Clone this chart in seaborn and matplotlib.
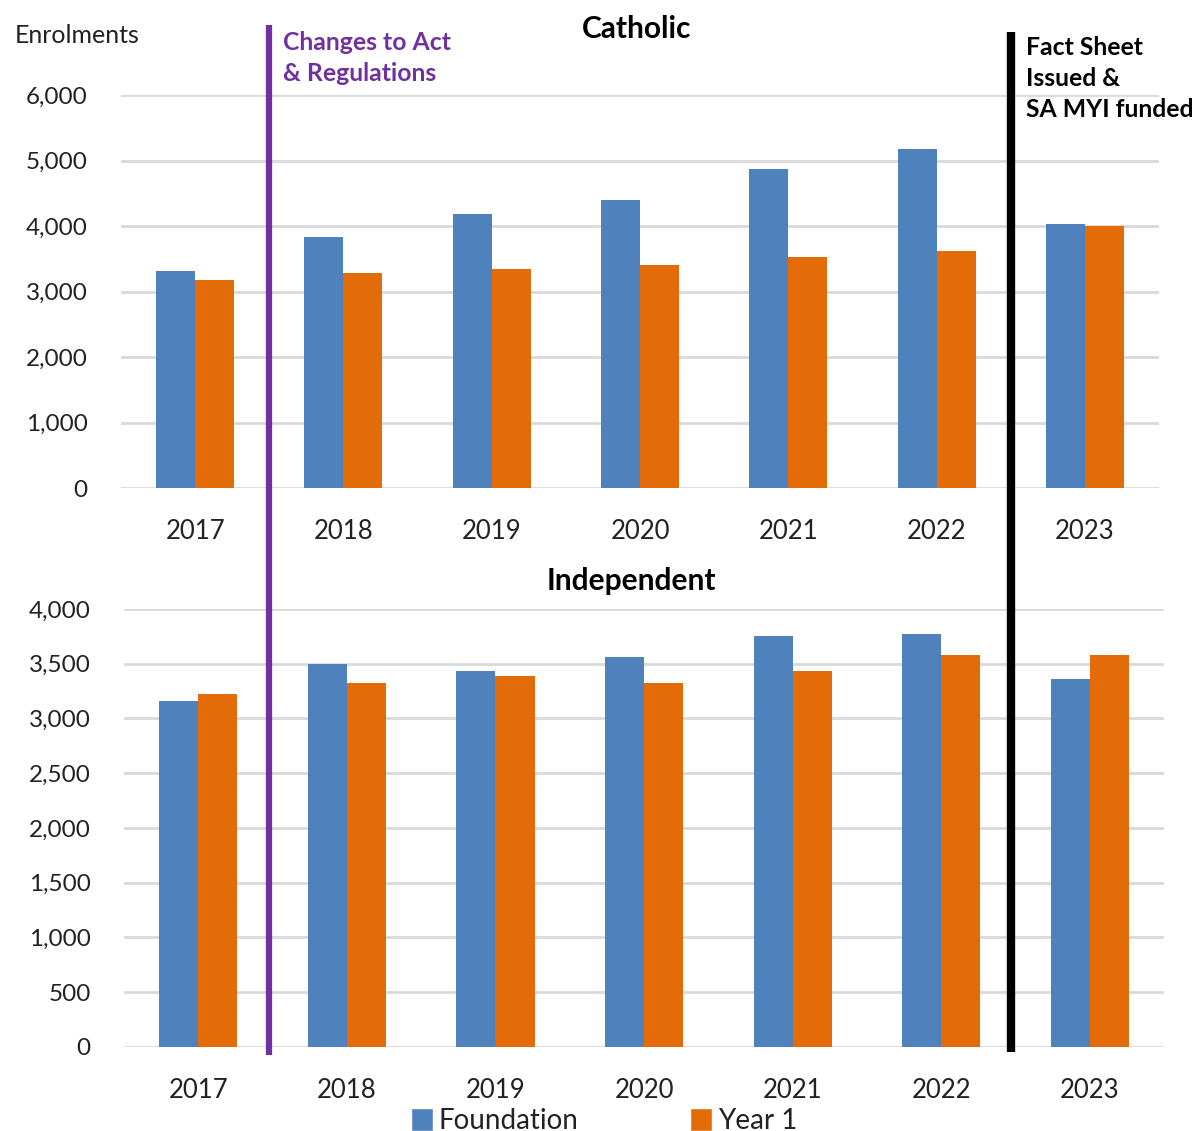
import matplotlib
matplotlib.use("Agg")
import matplotlib.pyplot as plt
import matplotlib.transforms as mtransforms
from matplotlib.lines import Line2D
from matplotlib.patches import Patch
import seaborn as sns
import pandas as pd

# Enrolment figures by school year
years = ["2017", "2018", "2019", "2020", "2021", "2022", "2023"]
series = ["Foundation", "Year 1"]
catholic_foundation = [3310, 3830, 4180, 4400, 4870, 5180, 4030]
catholic_year1 = [3180, 3280, 3340, 3400, 3530, 3620, 4000]
independent_foundation = [3160, 3500, 3430, 3560, 3750, 3770, 3360]
independent_year1 = [3220, 3320, 3390, 3320, 3430, 3580, 3580]

catholic_ticks = [0, 1000, 2000, 3000, 4000, 5000, 6000]
independent_ticks = [0, 500, 1000, 1500, 2000, 2500, 3000, 3500, 4000]

BLUE = "#4F81BD"
ORANGE = "#E36C09"
PURPLE = "#7030A0"
GRID = "#D9D9D9"
TEXT = "#222222"

sns.set_theme(style="white")
plt.rcParams["font.family"] = ["Lato", "DejaVu Sans"]


def long_frame(found, yr1):
    return pd.DataFrame({
        "Year": years * 2,
        "Series": [series[0]] * len(years) + [series[1]] * len(years),
        "Enrolments": list(found) + list(yr1),
    })


fig = plt.figure(figsize=(11.96, 11.31), dpi=100)
ax_top = fig.add_axes([0.1012, 0.5685, 0.8679, 0.3475])
ax_bot = fig.add_axes([0.1037, 0.0743, 0.8696, 0.3873])

panels = [
    (ax_top, long_frame(catholic_foundation, catholic_year1), catholic_ticks),
    (ax_bot, long_frame(independent_foundation, independent_year1), independent_ticks),
]

for ax, df, ticks in panels:
    sns.barplot(data=df, x="Year", y="Enrolments", hue="Series", order=years,
                hue_order=series, palette=[BLUE, ORANGE], saturation=1,
                width=0.526, linewidth=0, legend=False, ax=ax, zorder=3)
    ax.set_ylim(ticks[0], ticks[-1])
    ax.set_xlim(-0.5, len(years) - 0.5)
    ax.set_yticks(ticks)
    ax.set_yticklabels([f"{t:,}" for t in ticks])
    ax.yaxis.grid(True, color=GRID, linewidth=2, zorder=0)
    ax.set_axisbelow(True)
    for s in ax.spines.values():
        s.set_visible(False)
    ax.tick_params(axis="y", length=0, pad=24, labelsize=17.5, labelcolor=TEXT)
    ax.tick_params(axis="x", length=0, pad=22, labelsize=18.5, labelcolor=TEXT)
    ax.set_xlabel("")
    ax.set_ylabel("")

fig.text(0.532, 0.974, "Catholic", fontsize=21.5, fontweight="bold", color="black",
         ha="center", va="center")
fig.text(0.528, 0.486, "Independent", fontsize=21.5, fontweight="bold", color="black",
         ha="center", va="center")

fig.text(0.012, 0.969, "Enrolments", fontsize=18, color=TEXT, ha="left", va="center")

# Policy milestones between school years
trans = mtransforms.blended_transform_factory(ax_top.transData, fig.transFigure)
fig.add_artist(Line2D([0.5, 0.5], [0.978, 0.067], transform=trans,
                      color=PURPLE, linewidth=4.5, solid_capstyle="butt"))
fig.add_artist(Line2D([5.5, 5.5], [0.972, 0.070], transform=trans,
                      color="black", linewidth=6, solid_capstyle="butt"))

fig.text(0.2366, 0.9487, "Changes to Act\n& Regulations", fontsize=17.8, fontweight="bold",
         color=PURPLE, ha="left", va="center", linespacing=1.42)
fig.text(0.858, 0.9306, "Fact Sheet\nIssued &\nSA MYI funded", fontsize=17.8, fontweight="bold",
         color="black", ha="left", va="center", linespacing=1.42)

handles = [Patch(facecolor=BLUE, label=series[0]), Patch(facecolor=ORANGE, label=series[1])]
fig.legend(handles=handles, loc="center", bbox_to_anchor=(0.505, 0.0085), ncol=2,
           frameon=False, fontsize=20, handlelength=0.8, handleheight=0.9,
           handletextpad=0.2, columnspacing=4.0, labelcolor=TEXT)

fig.savefig("out.png", dpi=100, facecolor="white")
